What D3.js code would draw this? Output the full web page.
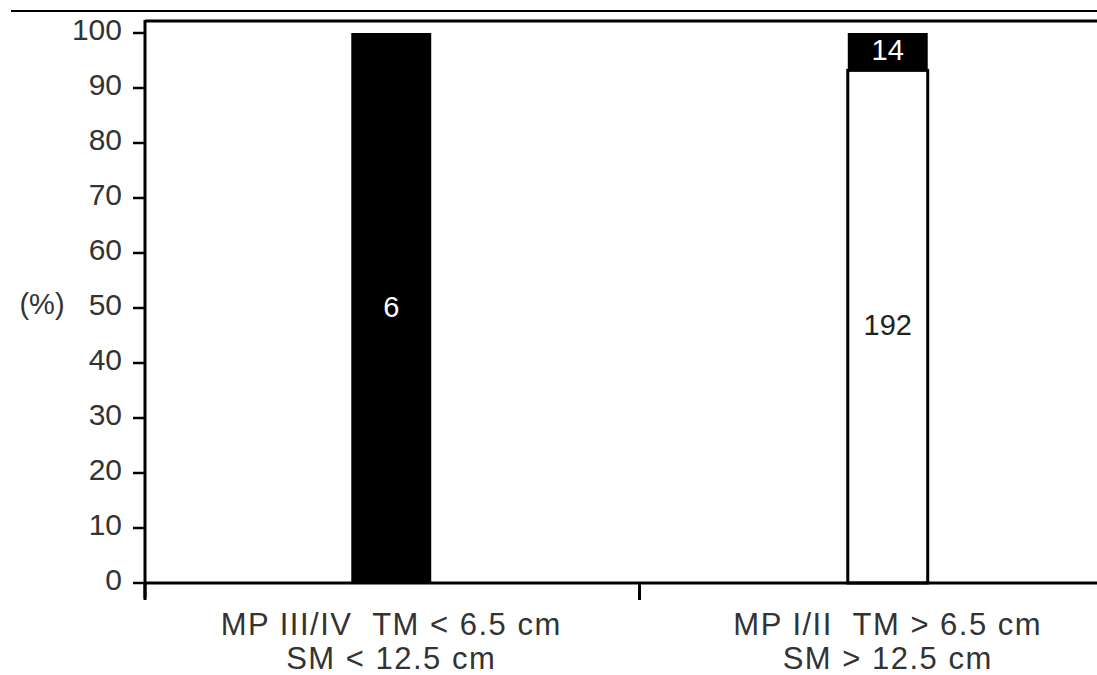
<!DOCTYPE html>
<html>
<head>
<meta charset="utf-8">
<script src="https://cdn.jsdelivr.net/npm/d3@7"></script>
<style>
  body { margin: 0; background: #fff; }
  text { font-family: "Liberation Sans", Arial, sans-serif; fill: #333; }
</style>
</head>
<body>
<div id="chart-container"></div>
<script>
var WIDTH = 1097
var HEIGHT = 675

// data
var catLine1 = ['MP III/IV  TM < 6.5 cm', 'MP I/II  TM > 6.5 cm']
var catLine2 = ['SM < 12.5 cm', 'SM > 12.5 cm']
var blackCounts = [6, 14]
var whiteCounts = [0, 192]
var yTicks = [0, 10, 20, 30, 40, 50, 60, 70, 80, 90, 100]

var rows = catLine1.map(function(c, i) {
  var total = blackCounts[i] + whiteCounts[i]
  return {
    cat: c,
    white: whiteCounts[i] / total * 100,
    black: blackCounts[i] / total * 100,
    nWhite: whiteCounts[i],
    nBlack: blackCounts[i]
  }
})

var svg = d3.select('#chart-container')
  .append('svg')
  .attr('width', WIDTH)
  .attr('height', HEIGHT)

var xScale = d3.scaleBand()
  .domain(catLine1)
  .range([143, 1136])
  .padding(0)

var yScale = d3.scaleLinear()
  .domain([0, 100])
  .range([583, 33])

var barW = xScale.bandwidth() * 0.161

var stack = d3.stack().keys(['white', 'black'])
var series = stack(rows)

// bars
var g = svg.append('g').attr('class', 'bars')
series.forEach(function(s) {
  g.selectAll('rect.' + s.key)
    .data(s)
    .enter().append('rect')
    .attr('class', s.key)
    .attr('x', function(d) { return xScale(d.data.cat) + xScale.bandwidth() / 2 - barW / 2 })
    .attr('width', barW)
    .attr('y', function(d) { return yScale(d[1]) })
    .attr('height', function(d) { return yScale(d[0]) - yScale(d[1]) })
    .attr('fill', s.key === 'black' ? '#000' : '#fff')
    .attr('stroke', s.key === 'black' ? 'none' : '#000')
    .attr('stroke-width', function(d) { return d[1] - d[0] > 0 ? 3 : 0 })
})

// counts inside bars
series.forEach(function(s) {
  g.selectAll('text.' + s.key)
    .data(s.filter(function(d) { return d[1] - d[0] > 0 }))
    .enter().append('text')
    .attr('class', s.key)
    .attr('x', function(d) { return xScale(d.data.cat) + xScale.bandwidth() / 2 })
    .attr('y', function(d) { return yScale((d[0] + d[1]) / 2) })
    .attr('dy', '0.3em')
    .attr('text-anchor', 'middle')
    .style('font-size', '29px')
    .style('fill', s.key === 'black' ? '#fff' : '#222')
    .text(function(d) { return s.key === 'black' ? d.data.nBlack : d.data.nWhite })
})

// page rule and frame
svg.append('line')
  .attr('x1', 11).attr('x2', WIDTH)
  .attr('y1', 11).attr('y2', 11)
  .attr('stroke', '#000').attr('stroke-width', 2)
svg.append('line')
  .attr('x1', 145).attr('x2', WIDTH)
  .attr('y1', 21).attr('y2', 21)
  .attr('stroke', '#000').attr('stroke-width', 3)

/* y axis */
var yAxis = svg.append('g').attr('class', 'axis axis--y')
yAxis.append('line')
  .attr('x1', 145).attr('x2', 145)
  .attr('y1', 20).attr('y2', 598)
  .attr('stroke', '#000').attr('stroke-width', 3)
yAxis.selectAll('line.tick')
  .data(yTicks)
  .enter().append('line')
  .attr('class', 'tick')
  .attr('x1', 133).attr('x2', 145)
  .attr('y1', function(d) { return yScale(d) }).attr('y2', function(d) { return yScale(d) })
  .attr('stroke', '#000').attr('stroke-width', 2.5)
yAxis.selectAll('text')
  .data(yTicks)
  .enter().append('text')
  .attr('x', 122)
  .attr('y', function(d) { return yScale(d) - 4 })
  .attr('dy', '0.35em')
  .attr('text-anchor', 'end')
  .style('font-size', '30px')
  .text(function(d) { return d })

svg.append('text')
  .attr('x', 42).attr('y', 304)
  .attr('dy', '0.35em')
  .attr('text-anchor', 'middle')
  .style('font-size', '29px')
  .text('(%)')

/* x axis */
var xAxis = svg.append('g').attr('class', 'axis axis--x')
xAxis.append('line')
  .attr('x1', 145).attr('x2', WIDTH)
  .attr('y1', 583).attr('y2', 583)
  .attr('stroke', '#000').attr('stroke-width', 3)
xAxis.selectAll('line.tick')
  .data(catLine1)
  .enter().append('line')
  .attr('class', 'tick')
  .attr('x1', function(d) { return Math.max(145, xScale(d)) }).attr('x2', function(d) { return Math.max(145, xScale(d)) })
  .attr('y1', 583).attr('y2', 600)
  .attr('stroke', '#000').attr('stroke-width', 3)
var labels = xAxis.selectAll('text')
  .data(catLine1)
  .enter().append('text')
  .attr('text-anchor', 'middle')
  .style('font-size', '31px')
  .style('letter-spacing', '1.5px')
  .style('white-space', 'pre')
labels.append('tspan')
  .attr('x', function(d) { return xScale(d) + xScale.bandwidth() / 2 })
  .attr('y', 635)
  .text(function(d) { return d })
labels.append('tspan')
  .attr('x', function(d) { return xScale(d) + xScale.bandwidth() / 2 })
  .attr('y', 669)
  .text(function(d, i) { return catLine2[i] })
</script>
</body>
</html>
